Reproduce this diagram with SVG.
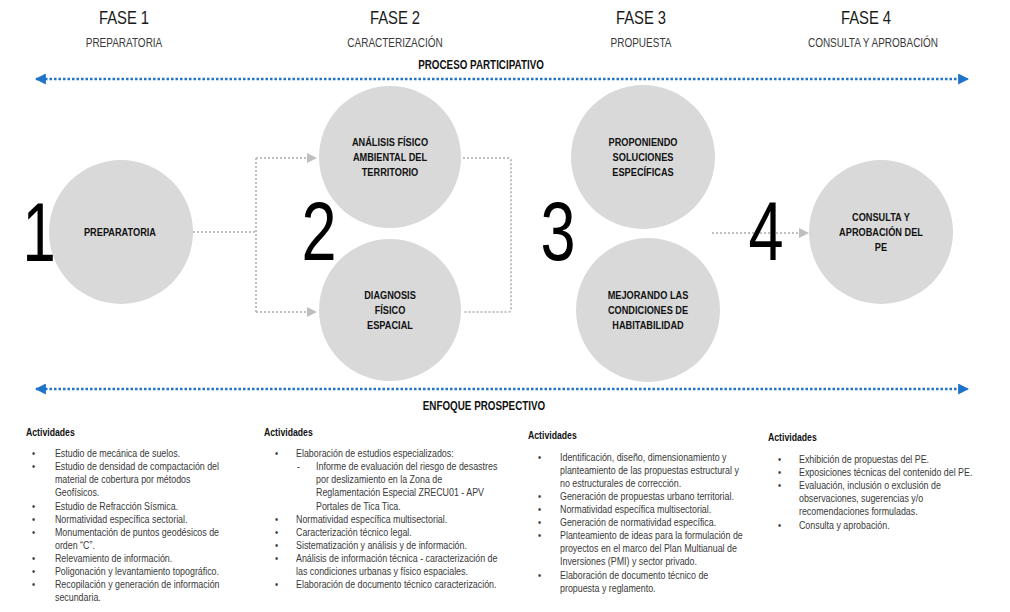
<svg xmlns="http://www.w3.org/2000/svg" width="1010" height="612" viewBox="0 0 1010 612">
<defs>
<style>
.bg{fill:#ffffff}
.fase{font-family:"Liberation Sans",Arial,sans-serif;font-size:19px;fill:#1a1a1a;text-anchor:middle}
.sub{font-family:"Liberation Sans",Arial,sans-serif;font-size:12.5px;fill:#3a3a3a;text-anchor:middle}
.band{font-family:"Liberation Sans",Arial,sans-serif;font-size:12px;font-weight:bold;fill:#111;text-anchor:middle}
.circ{fill:#d9d9d9}
.ct{font-family:"Liberation Sans",Arial,sans-serif;font-size:11.5px;font-weight:bold;fill:#111;text-anchor:middle}
.num{font-family:"Liberation Sans",Arial,sans-serif;font-size:83px;fill:#000;text-anchor:middle}
.conn{fill:none;stroke:#bfbfbf;stroke-width:2;stroke-dasharray:2 2}
.blue{fill:none;stroke:#1f73c8;stroke-width:2.5;stroke-dasharray:2.5 2}
.act{font-family:"Liberation Sans",Arial,sans-serif;font-size:10px;font-weight:bold;fill:#111}
.li{font-family:"Liberation Sans",Arial,sans-serif;font-size:10.2px;fill:#3a3a3a}
</style>
<marker id="ga" viewBox="0 0 10 10" refX="9" refY="5" markerWidth="5" markerHeight="5" orient="auto" markerUnits="strokeWidth">
<path d="M0,0 L10,5 L0,10 Z" fill="#bfbfbf"/>
</marker>
<marker id="ba" viewBox="0 0 10 10" refX="9" refY="5" markerWidth="4.4" markerHeight="4.4" orient="auto-start-reverse" markerUnits="strokeWidth">
<path d="M0,0 L10,5 L0,10 Z" fill="#1f73c8"/>
</marker>
</defs>
<rect class="bg" x="0" y="0" width="1010" height="612"/>

<g id="headers">
<text class="fase" transform="translate(124 24) scale(0.78 1)">FASE 1</text>
<text class="sub" transform="translate(124 47) scale(0.8 1)">PREPARATORIA</text>
<text class="fase" transform="translate(395 24) scale(0.78 1)">FASE 2</text>
<text class="sub" transform="translate(395 47) scale(0.8 1)">CARACTERIZACIÓN</text>
<text class="fase" transform="translate(641 24) scale(0.78 1)">FASE 3</text>
<text class="sub" transform="translate(641 47) scale(0.8 1)">PROPUESTA</text>
<text class="fase" transform="translate(866 24) scale(0.78 1)">FASE 4</text>
<text class="sub" transform="translate(873 47) scale(0.8 1)">CONSULTA Y APROBACIÓN</text>
<text class="band" transform="translate(481 69) scale(0.82 1)">PROCESO PARTICIPATIVO</text>
<text class="band" transform="translate(484 410) scale(0.82 1)">ENFOQUE PROSPECTIVO</text>
</g>

<g id="connectors">
<line class="blue" x1="36" y1="79" x2="968" y2="79" marker-start="url(#ba)" marker-end="url(#ba)"/>
<line class="blue" x1="36" y1="389" x2="968" y2="389" marker-start="url(#ba)" marker-end="url(#ba)"/>
<path class="conn" d="M193,232 H256"/>
<path class="conn" d="M256,158 V312"/>
<path class="conn" d="M256,158 H316" marker-end="url(#ga)"/>
<path class="conn" d="M256,312 H316" marker-end="url(#ga)"/>
<path class="conn" d="M463,158 H508 Q511,158 511,161 V309 Q511,312 508,312 H463"/>
<path class="conn" d="M712,233 H808" marker-end="url(#ga)"/>
</g>

<g id="n1">
<circle class="circ" cx="121" cy="232" r="72"/>
<text class="num" transform="translate(39 261) scale(0.72 1)">1</text>
<text class="ct" transform="translate(120 236) scale(0.8 1)">PREPARATORIA</text>
</g>
<g id="n2a">
<circle class="circ" cx="390" cy="157" r="71"/>
<text class="ct" transform="translate(390 146) scale(0.8 1)">ANÁLISIS FÍSICO</text>
<text class="ct" transform="translate(390 161) scale(0.8 1)">AMBIENTAL DEL</text>
<text class="ct" transform="translate(390 176) scale(0.8 1)">TERRITORIO</text>
</g>
<g id="n2b">
<circle class="circ" cx="390" cy="310" r="71"/>
<text class="ct" transform="translate(390 299) scale(0.8 1)">DIAGNOSIS</text>
<text class="ct" transform="translate(390 314) scale(0.8 1)">FÍSICO</text>
<text class="ct" transform="translate(390 329) scale(0.8 1)">ESPACIAL</text>
</g>
<g id="num2"><text class="num" transform="translate(319 260) scale(0.76 1)">2</text></g>
<g id="n3a">
<circle class="circ" cx="643" cy="157" r="72"/>
<text class="ct" transform="translate(643 146) scale(0.8 1)">PROPONIENDO</text>
<text class="ct" transform="translate(643 161) scale(0.8 1)">SOLUCIONES</text>
<text class="ct" transform="translate(643 176) scale(0.8 1)">ESPECÍFICAS</text>
</g>
<g id="n3b">
<circle class="circ" cx="648" cy="310" r="72"/>
<text class="ct" transform="translate(648 299) scale(0.8 1)">MEJORANDO LAS</text>
<text class="ct" transform="translate(648 314) scale(0.8 1)">CONDICIONES DE</text>
<text class="ct" transform="translate(648 329) scale(0.8 1)">HABITABILIDAD</text>
</g>
<g id="num3"><text class="num" transform="translate(558 260) scale(0.76 1)">3</text></g>
<g id="n4">
<circle class="circ" cx="881" cy="232" r="72"/>
<text class="num" transform="translate(766 260) scale(0.76 1)">4</text>
<text class="ct" transform="translate(881 221) scale(0.8 1)">CONSULTA Y</text>
<text class="ct" transform="translate(881 236) scale(0.8 1)">APROBACIÓN DEL</text>
<text class="ct" transform="translate(881 251) scale(0.8 1)">PE</text>
</g>

<g id="col1" transform="translate(26 0) scale(0.87 1)">
<text class="act" x="0" y="436">Actividades</text>
<g class="li">
<text x="6.9" y="457">•</text><text x="33.3" y="457">Estudio de mecánica de suelos.</text>
<text x="6.9" y="470">•</text><text x="33.3" y="470">Estudio de densidad de compactación del</text>
<text x="33.3" y="483">material de cobertura por métodos</text>
<text x="33.3" y="496">Geofísicos.</text>
<text x="6.9" y="510">•</text><text x="33.3" y="510">Estudio de Refracción Sísmica.</text>
<text x="6.9" y="523">•</text><text x="33.3" y="523">Normatividad específica sectorial.</text>
<text x="6.9" y="536">•</text><text x="33.3" y="536">Monumentación de puntos geodésicos de</text>
<text x="33.3" y="549">orden “C”.</text>
<text x="6.9" y="562">•</text><text x="33.3" y="562">Relevamiento de información.</text>
<text x="6.9" y="575">•</text><text x="33.3" y="575">Poligonación y levantamiento topográfico.</text>
<text x="6.9" y="588">•</text><text x="33.3" y="588">Recopilación y generación de información</text>
<text x="33.3" y="601">secundaria.</text>
</g>
</g>

<g id="col2" transform="translate(264 0) scale(0.87 1)">
<text class="act" x="0" y="436">Actividades</text>
<g class="li">
<text x="12.6" y="457">•</text><text x="36.8" y="457">Elaboración de estudios especializados:</text>
<text x="37.9" y="470">-</text><text x="59.8" y="470">Informe de evaluación del riesgo de desastres</text>
<text x="59.8" y="483">por deslizamiento en la Zona de</text>
<text x="59.8" y="496">Reglamentación Especial ZRECU01 - APV</text>
<text x="59.8" y="510">Portales de Tica Tica.</text>
<text x="12.6" y="523">•</text><text x="36.8" y="523">Normatividad específica multisectorial.</text>
<text x="12.6" y="536">•</text><text x="36.8" y="536">Caracterización técnico legal.</text>
<text x="12.6" y="549">•</text><text x="36.8" y="549">Sistematización y análisis y de información.</text>
<text x="12.6" y="562">•</text><text x="36.8" y="562">Análisis de información técnica - caracterización de</text>
<text x="36.8" y="575">las condiciones urbanas y físico espaciales.</text>
<text x="12.6" y="588">•</text><text x="36.8" y="588">Elaboración de documento técnico caracterización.</text>
</g>
</g>

<g id="col3" transform="translate(528 0) scale(0.87 1)">
<text class="act" x="0" y="439">Actividades</text>
<g class="li">
<text x="11.5" y="461">•</text><text x="36.8" y="461">Identificación, diseño, dimensionamiento y</text>
<text x="36.8" y="474">planteamiento de las propuestas estructural y</text>
<text x="36.8" y="487">no estructurales de corrección.</text>
<text x="11.5" y="500">•</text><text x="36.8" y="500">Generación de propuestas urbano territorial.</text>
<text x="11.5" y="513">•</text><text x="36.8" y="513">Normatividad específica multisectorial.</text>
<text x="11.5" y="526">•</text><text x="36.8" y="526">Generación de normatividad específica.</text>
<text x="11.5" y="539">•</text><text x="36.8" y="539">Planteamiento de ideas para la formulación de</text>
<text x="36.8" y="552">proyectos en el marco del Plan Multianual de</text>
<text x="36.8" y="565">Inversiones (PMI) y sector privado.</text>
<text x="11.5" y="579">•</text><text x="36.8" y="579">Elaboración de documento técnico de</text>
<text x="36.8" y="592">propuesta y reglamento.</text>
</g>
</g>

<g id="col4" transform="translate(768 0) scale(0.87 1)">
<text class="act" x="0" y="441">Actividades</text>
<g class="li">
<text x="11.5" y="463">•</text><text x="35.6" y="463">Exhibición de propuestas del PE.</text>
<text x="11.5" y="476">•</text><text x="35.6" y="476">Exposiciones técnicas del contenido del PE.</text>
<text x="11.5" y="489">•</text><text x="35.6" y="489">Evaluación, inclusión o exclusión de</text>
<text x="35.6" y="502">observaciones, sugerencias y/o</text>
<text x="35.6" y="515">recomendaciones formuladas.</text>
<text x="11.5" y="529">•</text><text x="35.6" y="529">Consulta y aprobación.</text>
</g>
</g>
</svg>
